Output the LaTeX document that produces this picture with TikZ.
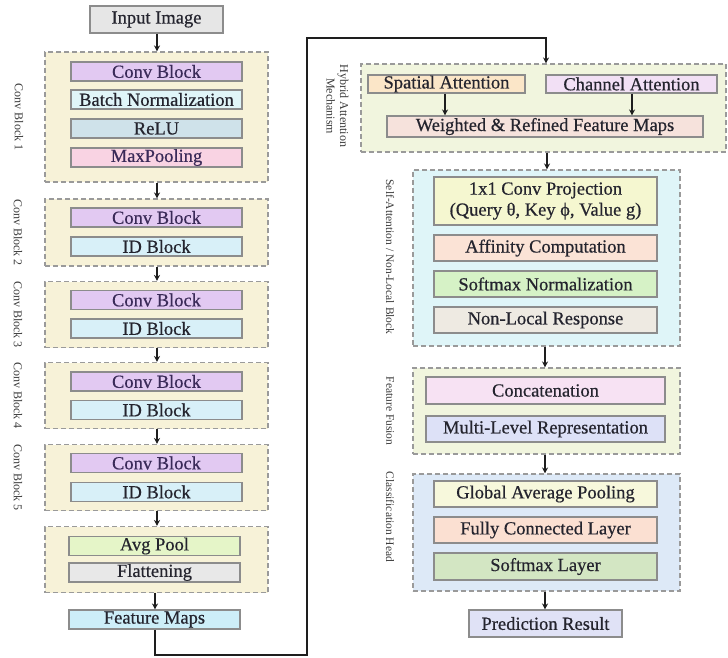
\documentclass[tikz,border=0pt]{standalone}
\usepackage{fontspec}
\setmainfont{Liberation Serif}
\newfontfamily\boxfont[FakeBold=0.5]{Liberation Serif}
\usetikzlibrary{arrows.meta}
\definecolor{boxline}{HTML}{8C8C8C}
\definecolor{grpline}{HTML}{9A9A9A}
\definecolor{txt}{HTML}{24242E}
\definecolor{txtp}{HTML}{3A2A58}
\definecolor{labtxt}{HTML}{3C3C3C}
\definecolor{arrc}{HTML}{1E1E1E}
\definecolor{cInput}{HTML}{E6E6E6}
\definecolor{cGrpL}{HTML}{F7F2D8}
\definecolor{cConv}{HTML}{E2C9F2}
\definecolor{cBN}{HTML}{E0F5F8}
\definecolor{cReLU}{HTML}{CFE2EA}
\definecolor{cMP}{HTML}{F9D3E3}
\definecolor{cID}{HTML}{D8F0F8}
\definecolor{cAvg}{HTML}{E5F5C8}
\definecolor{cFlat}{HTML}{E8E8E8}
\definecolor{cFM}{HTML}{CDEEF8}
\definecolor{cHyb}{HTML}{F1F5DE}
\definecolor{cSpat}{HTML}{FBE6C8}
\definecolor{cChan}{HTML}{F2E0F5}
\definecolor{cWeig}{HTML}{F6E2DC}
\definecolor{cSelf}{HTML}{DFF5F8}
\definecolor{cProj}{HTML}{F5F7D0}
\definecolor{cAff}{HTML}{FBE3D6}
\definecolor{cSmN}{HTML}{D6F2C6}
\definecolor{cNL}{HTML}{EEEAE2}
\definecolor{cFus}{HTML}{F1F5DE}
\definecolor{cCat}{HTML}{F7E2F3}
\definecolor{cML}{HTML}{DDE1F7}
\definecolor{cHead}{HTML}{DDE9F7}
\definecolor{cGAP}{HTML}{F7F8DC}
\definecolor{cFC}{HTML}{FBE0D2}
\definecolor{cSmL}{HTML}{D3E6C3}
\definecolor{cPred}{HTML}{E0E2F6}
\begin{document}
\begin{tikzpicture}[x=1pt,y=-1pt,
  box/.style={draw=boxline, line width=1.1pt, rectangle, inner sep=0pt, align=center,
    font=\boxfont\fontsize{18.5}{21}\selectfont, text=txt},
  conv/.style={box, fill=cConv, text=txtp},
  grp/.style={draw=grpline, dash pattern=on 5pt off 3pt, line width=1.1pt, rectangle, inner sep=0pt},
  sz/.style 2 args={minimum width=#1pt, minimum height=#2pt},
  lab/.style={font=\fontsize{12}{13.5}\selectfont, text=labtxt, rotate=-90, inner sep=0pt},
  rlab/.style={lab, font=\fontsize{11.5}{13}\selectfont},
  arr/.style={-{Stealth[length=6pt,width=6pt]}, line width=1.6pt, draw=arrc}]
\useasboundingbox (0,0) rectangle (728,657);
\fill[white] (0,0) rectangle (728,657);

% ---------- left column ----------
\node[box, fill=cInput, sz={133}{27}] (in) at (156.5,19.5) {Input Image};

\node[grp, fill=cGrpL, sz={223}{130}] (g1) at (156.5,117) {};
\node[conv, sz={171}{19}] (cb1) at (156.5,71.5) {Conv Block};
\node[box, fill=cBN, sz={171}{19}] (bn) at (156.5,99.5) {Batch Normalization};
\node[box, fill=cReLU, sz={171}{19}] (relu) at (156.5,128.5) {ReLU};
\node[box, fill=cMP, sz={171}{19}, text=txtp] (mp) at (156.5,157.5) {MaxPooling};
\node[lab] (l1) at (19,117) {Conv Block 1};

\node[grp, fill=cGrpL, sz={223}{67}] (g2) at (156.5,232.5) {};
\node[conv, sz={171}{19}] (cb2) at (156.5,217.5) {Conv Block};
\node[box, fill=cID, sz={171}{19}] (id2) at (156.5,246.5) {ID Block};
\node[lab] (l2) at (18,232.5) {Conv Block 2};

\node[grp, fill=cGrpL, sz={223}{66}] (g3) at (156.5,314.5) {};
\node[conv, sz={171}{19}] (cb3) at (156.5,300) {Conv Block};
\node[box, fill=cID, sz={171}{19}] (id3) at (156.5,328.5) {ID Block};
\node[lab] (l3) at (18,314.5) {Conv Block 3};

\node[grp, fill=cGrpL, sz={223}{66}] (g4) at (156.5,395.5) {};
\node[conv, sz={171}{19}] (cb4) at (156.5,381.5) {Conv Block};
\node[box, fill=cID, sz={171}{19}] (id4) at (156.5,410) {ID Block};
\node[lab] (l4) at (18,395.5) {Conv Block 4};

\node[grp, fill=cGrpL, sz={223}{66}] (g5) at (156.5,477.5) {};
\node[conv, sz={171}{19}] (cb5) at (156.5,463) {Conv Block};
\node[box, fill=cID, sz={171}{19}] (id5) at (156.5,492) {ID Block};
\node[lab] (l5) at (18,477.5) {Conv Block 5};

\node[grp, fill=cGrpL, sz={223}{66}] (g6) at (156.5,559.5) {};
\node[box, fill=cAvg, sz={171}{19}] (avg) at (154.5,546) {Avg Pool};
\node[box, fill=cFlat, sz={171}{19}] (flat) at (154.5,572.5) {Flattening};

\node[box, fill=cFM, sz={171}{19}] (fm) at (154.5,619.5) {Feature Maps};

\draw[arr] (in.south -| 157,0) -- (g1.north -| 157,0);
\draw[arr] (g1.south -| 157,0) -- (g2.north -| 157,0);
\draw[arr] (g2.south -| 157,0) -- (g3.north -| 157,0);
\draw[arr] (g3.south -| 157,0) -- (g4.north -| 157,0);
\draw[arr] (g4.south -| 157,0) -- (g5.north -| 157,0);
\draw[arr] (g5.south -| 157,0) -- (g6.north -| 157,0);
\draw[arr] (g6.south -| 155,0) -- (fm.north -| 155,0);

% ---------- right column ----------
\node[grp, fill=cHyb, sz={365}{88}] (hyb) at (543.5,108) {};
\node[box, fill=cSpat, sz={157}{18}] (sp) at (446.5,84) {Spatial Attention};
\node[box, fill=cChan, sz={171}{18}] (ch) at (631.5,84) {Channel Attention};
\node[box, fill=cWeig, sz={316}{21}] (wt) at (545,126.5) {Weighted \& Refined Feature Maps};
\node[lab, align=center] (lh) at (337.5,106) {Hybrid Attention\\Mechanism};
\draw[arr] (sp.south -| 445,0) -- (wt.north -| 445,0);
\draw[arr] (ch.south -| 632,0) -- (wt.north -| 632,0);

\node[grp, fill=cSelf, sz={267}{176}] (sa) at (546.5,258) {};
\node[box, fill=cProj, sz={223}{48}] (proj) at (545.5,201) {1x1 Conv Projection\\(Query θ, Key ϕ, Value g)};
\node[box, fill=cAff, sz={223}{26}] (aff) at (545.5,248) {Affinity Computation};
\node[box, fill=cSmN, sz={223}{26}] (smn) at (545.5,284) {Softmax Normalization};
\node[box, fill=cNL, sz={223}{26}] (nl) at (545.5,320) {Non-Local Response};
\node[rlab] (ls) at (390,257) {Self-Attention / Non-Local Block};

\node[grp, fill=cFus, sz={267}{86}] (fus) at (546.5,411) {};
\node[box, fill=cCat, sz={239}{27}] (cat) at (545.5,390.5) {Concatenation};
\node[box, fill=cML, sz={239}{26}] (ml) at (545.5,429) {Multi-Level Representation};
\node[rlab] (lf) at (390,411) {Feature Fusion};

\node[grp, fill=cHead, sz={267}{117}] (head) at (546.5,532.5) {};
\node[box, fill=cGAP, sz={223}{26}] (gap) at (545.5,494) {Global Average Pooling};
\node[box, fill=cFC, sz={223}{26}] (fc) at (545.5,530) {Fully Connected Layer};
\node[box, fill=cSmL, sz={223}{27}] (sml) at (545.5,566.5) {Softmax Layer};
\node[rlab] (lc) at (390,517) {Classification Head};

\node[box, fill=cPred, sz={153}{27}] (pred) at (545.5,623.5) {Prediction Result};

\draw[arr] (hyb.south -| 547,0) -- (sa.north -| 547,0);
\draw[arr] (sa.south -| 545,0) -- (fus.north -| 545,0);
\draw[arr] (fus.south -| 545,0) -- (head.north -| 545,0);
\draw[arr] (head.south -| 545,0) -- (pred.north -| 545,0);

% ---------- long connector ----------
\coordinate (k1) at (155,655);
\coordinate (k2) at (307,655);
\coordinate (k3) at (307,38);
\coordinate (k4) at (546,38);
\draw[arr] (fm.south -| k1) -- (k1) -- (k2) -- (k3) -- (k4) -- (hyb.north -| k4);
\end{tikzpicture}
\end{document}
